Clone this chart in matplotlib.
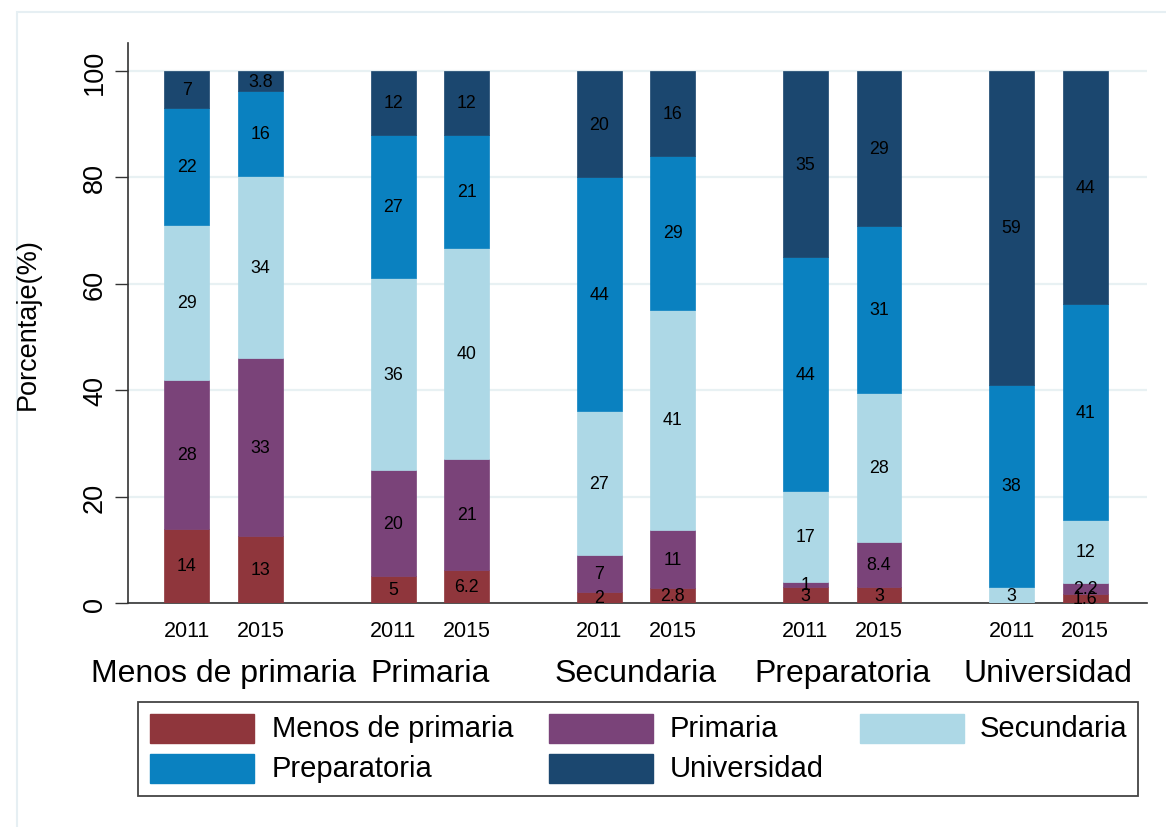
import matplotlib
matplotlib.use("Agg")
import matplotlib.pyplot as plt
from matplotlib.patches import Rectangle
import matplotlib.transforms as mtransforms

plt.rcParams['font.family'] = ['Liberation Sans', 'DejaVu Sans']

groups = ["Menos de primaria", "Primaria", "Secundaria", "Preparatoria", "Universidad"]
years = ["2011", "2015"]
levels = ["Menos de primaria", "Primaria", "Secundaria", "Preparatoria", "Universidad"]

# values per bar: order (group, year) -> 2011, 2015 for each group
menos = [14, 12.6, 5, 6.2, 2, 2.8, 3, 3, 0, 1.6]
primaria = [28, 33.4, 20, 20.8, 7, 10.9, 1, 8.4, 0, 2.2]
secundaria = [29, 34.3, 36, 39.7, 27, 41.4, 17, 28, 3, 11.8]
preparatoria = [22, 15.9, 27, 21.3, 44, 28.9, 44, 31.4, 38, 40.6]
universidad = [7, 3.8, 12, 12, 20, 16, 35, 29.2, 59, 43.8]
series = [menos, primaria, secundaria, preparatoria, universidad]

colors = ["#8f363c", "#7a4379", "#add8e6", "#0a81c0", "#1b476f"]

W, H = 1166, 828
fig = plt.figure(figsize=(W / 100, H / 100), dpi=100)
fig.patch.set_facecolor("white")

# outer faint frame
fig.patches.append(Rectangle((17 / W, -0.1), 1.2, 1 - 13 / H + 0.1, transform=fig.transFigure,
                             fill=False, edgecolor="#e6eff3", linewidth=1.5))

ax = fig.add_axes([128 / W, 1 - 604 / H, (1147 - 128) / W, (604 - 44) / H])

gap = 2.8
width = 0.61
xpos = []
for g in range(len(groups)):
    for j in range(len(years)):
        xpos.append(g * gap + j)

bottoms = [0.0] * len(xpos)
for vals, col in zip(series, colors):
    ax.bar(xpos, vals, width=width, bottom=bottoms, color=col, edgecolor=col, linewidth=0.5, zorder=3)
    for x, b, v in zip(xpos, bottoms, vals):
        if v > 0:
            ax.text(x, b + v / 2, "{:.2g}".format(v), ha="center", va="center",
                    fontsize=12.8, color="black", zorder=4)
    bottoms = [b + v for b, v in zip(bottoms, vals)]

ax.set_xlim(-0.80, (len(groups) - 1) * gap + 1 + 0.84)
ax.set_ylim(0, 105.26)

ax.set_yticks([0, 20, 40, 60, 80, 100])
ax.set_yticklabels(["0", "20", "40", "60", "80", "100"], rotation=90, va="center", fontsize=19.5)
ax.tick_params(axis="y", direction="out", length=9.4, width=1, color="#333333", pad=5)
fig.text(28 / W, 1 - 324 / H, "Porcentaje(%)", rotation=90, ha="center", va="center", fontsize=19.5)

ax.set_xticks(xpos)
ax.set_xticklabels(years * len(groups), fontsize=15.5)
ax.tick_params(axis="x", length=0, pad=12)

for s in ["top", "right"]:
    ax.spines[s].set_visible(False)
for s in ["left", "bottom"]:
    ax.spines[s].set_color("#333333")
    ax.spines[s].set_linewidth(1.2)

ax.yaxis.grid(True, color="#e8f1f3", linewidth=1.6, zorder=0)
ax.set_axisbelow(True)

trans = mtransforms.blended_transform_factory(ax.transData, fig.transFigure)
for g, name in enumerate(groups):
    ax.text(g * gap + 0.5, 1 - 674 / H, name, transform=trans, ha="center", va="center",
            fontsize=23, clip_on=False)

# legend box
fig.patches.append(Rectangle((138 / W, 1 - 797 / H), (1138 - 138) / W, (797 - 703) / H,
                             transform=fig.transFigure, fill=False, edgecolor="#444444", linewidth=1.3))
col_sw = [150, 549, 860]
col_tx = [272, 670, 980]
row_y = [729, 769]
for i, (lab, col) in enumerate(zip(levels, colors)):
    r, c = divmod(i, 3)
    fig.patches.append(Rectangle((col_sw[c] / W, 1 - (row_y[r] + 14.5) / H), 104 / W, 29 / H,
                                 transform=fig.transFigure, facecolor=col, edgecolor=col))
    fig.text(col_tx[c] / W, 1 - row_y[r] / H, lab, ha="left", va="center", fontsize=21)

fig.savefig("out.png", dpi=100)
